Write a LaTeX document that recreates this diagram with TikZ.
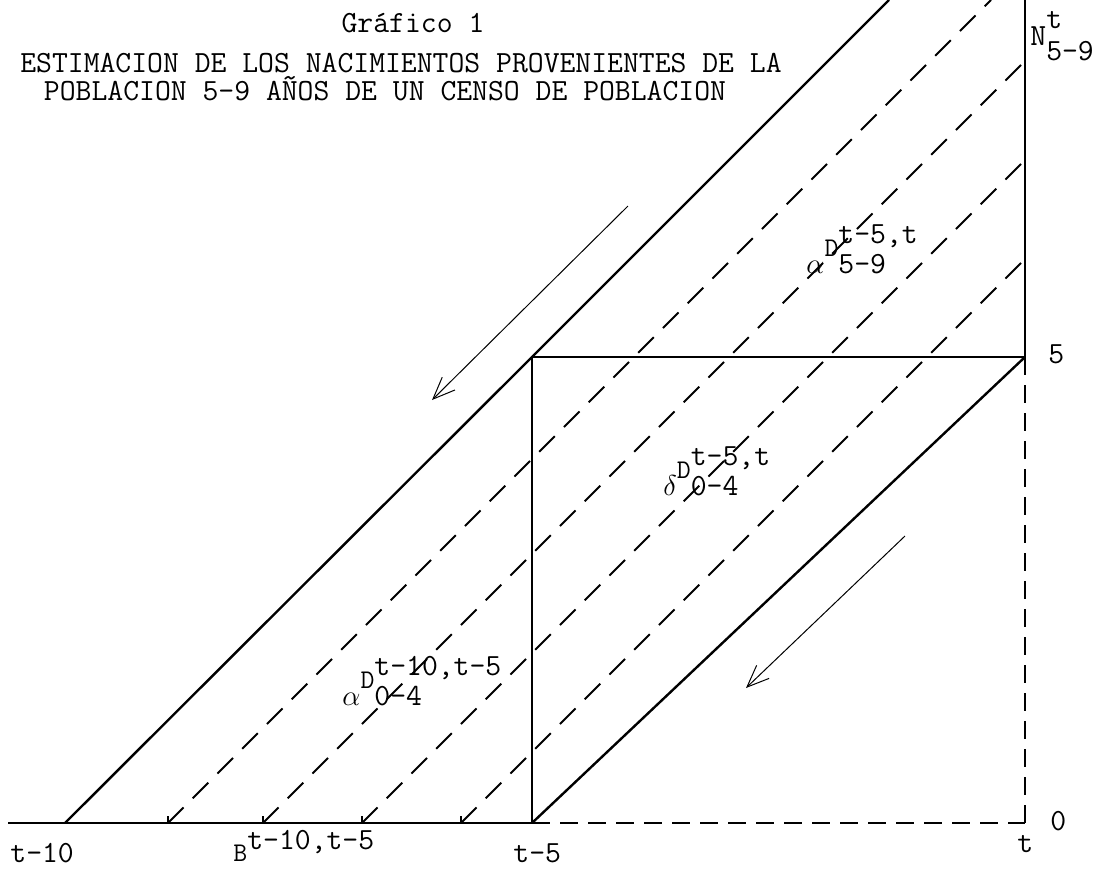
\documentclass[tikz,border=0pt]{standalone}
\usepackage{fontspec}
\usepackage{tikz}
\usetikzlibrary{arrows.meta}
\newfontfamily\typew{Latin Modern Mono}
% greek prefix, letter, upper and lower index, typed as on a typewriter
\newcommand{\lexis}[4]{{\fontsize{14}{14}\selectfont#1}\raisebox{8.5pt}{\fontsize{13.5}{14}\selectfont#2}\rlap{\raisebox{15pt}{#3}}#4}

\begin{document}
\begin{tikzpicture}[x=0.5pt,y=-0.5pt,
    txt/.style={font=\typew\fontsize{15.4}{17}\selectfont, inner sep=0pt, anchor=base west},
    life/.style={line width=1.2pt},
    edge/.style={line width=0.9pt},
    cohort/.style={line width=0.9pt, dash pattern=on 11pt off 6.5pt},
    grid/.style={line width=0.9pt, dash pattern=on 9pt off 5pt},
    flow/.style={line width=0.5pt, -{Straight Barb[length=11pt,width=9pt]}}]
    \useasboundingbox (0,0) rectangle (1099,869);

    % Lexis points
    \coordinate (axl) at (8,823);
    \coordinate (t10) at (65,823);
    \coordinate (t5) at (532,823);
    \coordinate (t0) at (1025,823);
    \coordinate (c5) at (532,357);
    \coordinate (r5) at (1025,357);
    \coordinate (rtop) at (1025,0);
    \coordinate (dtop) at (889,0);

    % axes and the square
    \draw[edge] (axl) -- (t5);
    \draw[grid] (t5) -- (t0);
    \draw[edge] (rtop) -- (r5);
    \draw[grid] (r5) -- (t0);
    \draw[edge] (t5) -- (c5) -- (r5);
    \draw[life] (t10) -- (c5) -- (dtop);
    \draw[life] (t5) -- (r5);

    % cohort lines
    \foreach \f/\xe/\ye in {168/991/0, 263/1025/61, 362/1025/160, 461/1025/259} {
        \draw[cohort] (\f,823) -- (\xe,\ye);
        \draw[edge] (\f,823) -- (\f,816);
    }

    % arrows
    \coordinate (a1s) at (628,206);
    \coordinate (a1e) at (432,400);
    \coordinate (a2s) at (905,536);
    \coordinate (a2e) at (746,688);
    \draw[flow] (a1s) -- (a1e);
    \draw[flow] (a2s) -- (a2e);

    % titles
    \node[txt, anchor=base] (graf) at (413,32) {Gráfico 1};
    \node[txt, anchor=base] (tit1) at (401,72) {ESTIMACION DE LOS NACIMIENTOS PROVENIENTES DE LA};
    \node[txt, anchor=base] (tit2) at (385,100) {POBLACION 5-9 AÑOS DE UN CENSO DE POBLACION};

    % labels
    \node[txt] (d59) at (806,273) {\lexis{$\alpha$}{D}{t-5,t}{5-9}};
    \node[txt] (d04) at (663,495) {\lexis{$\delta$}{D}{t-5,t}{0-4}};
    \node[txt] (d04b) at (342,705) {\lexis{$\alpha$}{D}{t-10,t-5}{0-4}};
    \node[txt] (births) at (233,861) {{\fontsize{13.5}{14}\selectfont B}\raisebox{6pt}{t-10,t-5}};
    \node[txt] (pop) at (1030,45) {N\rlap{\raisebox{8.5pt}{t}}\raisebox{-7.5pt}{5-9}};
    \node[txt] (lt10) at (10,862) {t-10};
    \node[txt] (lt5) at (513,862) {t-5};
    \node[txt] (lt) at (1017,852) {t};
    \node[txt] (l0) at (1050,830) {0};
    \node[txt] (l5) at (1048,363) {5};
\end{tikzpicture}
\end{document}
